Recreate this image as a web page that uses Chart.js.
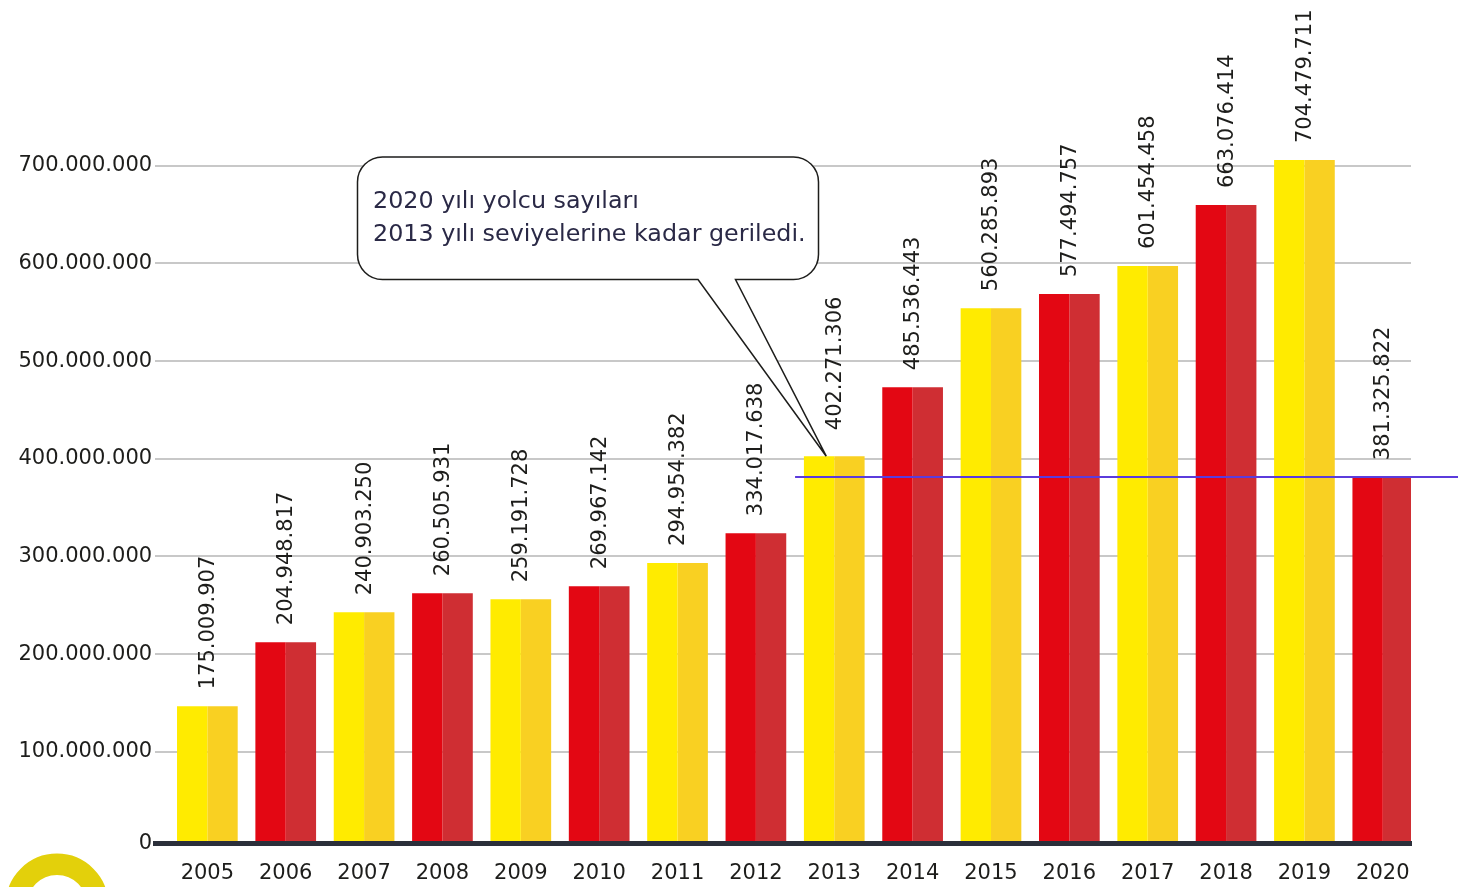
<!DOCTYPE html>
<html>
<head>
<meta charset="utf-8">
<script src="https://cdn.jsdelivr.net/npm/chart.js@4.4.1/dist/chart.umd.min.js"></script>
<style>
  html, body { margin: 0; padding: 0; background: #ffffff; overflow: hidden; }
  #wrap { width: 1458px; height: 887px; position: relative; overflow: hidden; }
</style>
</head>
<body>
<div id="wrap"><canvas id="c" width="1458" height="905"></canvas></div>
<script>
// ---- data ----
const years = [2005, 2006, 2007, 2008, 2009, 2010, 2011, 2012, 2013, 2014, 2015, 2016, 2017, 2018, 2019, 2020];
const passengers = [146.5e6, 212.1e6, 242.8e6, 262.3e6, 256.1e6, 269.5e6, 293.3e6, 323.8e6,
                    402.6e6, 473.3e6, 554.2e6, 568.6e6, 597.3e6, 659.8e6, 705.9e6, 381.1e6];
const valueLabels = ['175.009.907', '204.948.817', '240.903.250', '260.505.931', '259.191.728', '269.967.142',
                     '294.954.382', '334.017.638', '402.271.306', '485.536.443', '560.285.893', '577.494.757',
                     '601.454.458', '663.076.414', '704.479.711', '381.325.822'];
const yTickValues = [0, 100e6, 200e6, 300e6, 400e6, 500e6, 600e6, 700e6];
const yTickLabels = ['0', '100.000.000', '200.000.000', '300.000.000', '400.000.000', '500.000.000', '600.000.000', '700.000.000'];
const calloutLines = ['2020 yılı yolcu sayıları', '2013 yılı seviyelerine kadar geriledi.'];
const calloutYear = 2013;
const referenceYear = 2020;

// ---- styles ----
const FONT = '"DejaVu Sans", sans-serif';
const yellowL = '#FFEB00', yellowR = '#F9D022', redL = '#E30713', redR = '#CF2E33';
const leftColors = years.map((_, i) => i % 2 === 0 ? yellowL : redL);
const rightColors = years.map((_, i) => i % 2 === 0 ? yellowR : redR);

const decor = {
  id: 'decor',
  beforeDraw(chart) {
    const ctx = chart.ctx;
    ctx.save();
    ctx.fillStyle = '#ffffff';
    ctx.fillRect(0, 0, chart.width, chart.height);
    // decorative ring bottom-left
    ctx.beginPath();
    ctx.arc(57, 905, 40.7, 0, Math.PI * 2);
    ctx.strokeStyle = '#E3D00B';
    ctx.lineWidth = 21.4;
    ctx.stroke();
    ctx.restore();
  },
  afterDatasetsDraw(chart) {
    const ctx = chart.ctx;
    const xs = chart.scales.x, ys = chart.scales.y;
    const ci = years.indexOf(calloutYear);
    const ri = years.indexOf(referenceYear);

    // callout box with tail
    const x0 = 357.5, y0 = 157, x1 = 818.5, y1 = 279.5, r = 25;
    const tipX = xs.getPixelForValue(calloutYear) - 8;
    const tipY = ys.getPixelForValue(passengers[ci]);
    const tailL = 698, tailR = 735.5;
    ctx.save();
    ctx.beginPath();
    ctx.moveTo(x0 + r, y0);
    ctx.lineTo(x1 - r, y0);
    ctx.arcTo(x1, y0, x1, y0 + r, r);
    ctx.lineTo(x1, y1 - r);
    ctx.arcTo(x1, y1, x1 - r, y1, r);
    ctx.lineTo(tailR, y1);
    ctx.lineTo(tipX, tipY);
    ctx.lineTo(tailL, y1);
    ctx.lineTo(x0 + r, y1);
    ctx.arcTo(x0, y1, x0, y1 - r, r);
    ctx.lineTo(x0, y0 + r);
    ctx.arcTo(x0, y0, x0 + r, y0, r);
    ctx.closePath();
    ctx.fillStyle = '#ffffff';
    ctx.fill();
    ctx.strokeStyle = '#1d1d1b';
    ctx.lineWidth = 1.5;
    ctx.stroke();
    ctx.fillStyle = '#2a2946';
    ctx.font = '23.8px ' + FONT;
    ctx.textAlign = 'left';
    ctx.textBaseline = 'alphabetic';
    ctx.fillText(calloutLines[0], 373, 207.5);
    ctx.fillText(calloutLines[1], 373, 241);
    ctx.restore();

    // rotated value labels
    ctx.save();
    ctx.fillStyle = '#1d1d1b';
    ctx.font = '21px ' + FONT;
    ctx.textAlign = 'left';
    ctx.textBaseline = 'middle';
    years.forEach((yr, i) => {
      const px = xs.getPixelForValue(yr) + 1;
      const gap = i === ci ? 26 : 17;
      const py = ys.getPixelForValue(passengers[i]) - gap;
      ctx.save();
      ctx.translate(px, py);
      ctx.rotate(-Math.PI / 2);
      ctx.fillText(valueLabels[i], 0, 0);
      ctx.restore();
    });
    ctx.restore();

    // reference line at 2020 level
    ctx.save();
    const ly = Math.round(ys.getPixelForValue(passengers[ri]));
    ctx.beginPath();
    ctx.moveTo(xs.getPixelForValue(calloutYear - 0.5), ly);
    ctx.lineTo(chart.width, ly);
    ctx.strokeStyle = '#5B3BDC';
    ctx.lineWidth = 2;
    ctx.stroke();
    ctx.restore();
  }
};

new Chart(document.getElementById('c'), {
  type: 'bar',
  data: {
    labels: years,
    datasets: [
      { data: passengers, backgroundColor: leftColors, borderWidth: 0, clip: 0 },
      { data: passengers, backgroundColor: rightColors, borderWidth: 0, clip: 0 }
    ]
  },
  options: {
    responsive: false,
    animation: false,
    devicePixelRatio: 1,
    layout: { padding: { left: 15.5, right: 47, top: 20, bottom: 0.5 } },
    plugins: { legend: { display: false }, tooltip: { enabled: false } },
    datasets: { bar: { categoryPercentage: 0.7745, barPercentage: 1 } },
    scales: {
      x: {
        type: 'linear',
        offset: false,
        min: 2004.333,
        max: 2020.36,
        grid: { display: false, drawTicks: false, offset: false },
        border: { display: true, color: '#2B2F3A', width: 5, z: 1 },
        afterBuildTicks(scale) { scale.ticks = years.map(v => ({ value: v })); },
        ticks: {
          padding: 18,
          autoSkip: false,
          maxRotation: 0,
          color: '#1d1d1b',
          font: { family: FONT, size: 21 },
          callback: (v, i) => String(years[i])
        }
      },
      y: {
        min: 6.2e6,
        max: 849.3e6,
        grid: { color: '#C8C8C8', lineWidth: 2, drawTicks: false },
        border: { display: false },
        afterBuildTicks(scale) { scale.ticks = yTickValues.map(v => ({ value: Math.max(v, scale.min) })); },
        ticks: {
          padding: 3,
          color: '#1d1d1b',
          font: { family: FONT, size: 21 },
          callback: (v, i) => yTickLabels[i]
        }
      }
    }
  },
  plugins: [decor]
});
</script>
</body>
</html>
